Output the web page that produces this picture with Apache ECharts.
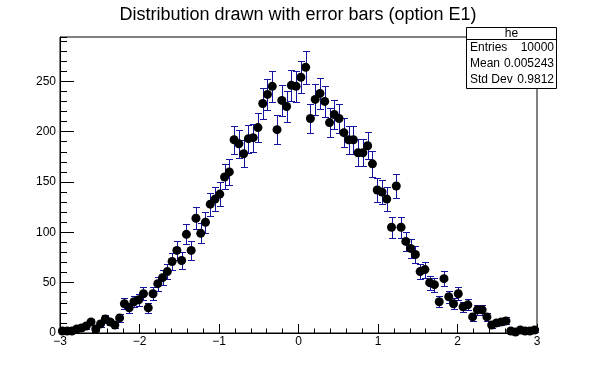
<!DOCTYPE html>
<html><head><meta charset="utf-8">
<script src="https://cdn.jsdelivr.net/npm/echarts@6/dist/echarts.min.js"></script>
<style>html,body{margin:0;padding:0;background:#fff}#c{width:596px;height:372px}</style>
</head><body><div id="c"></div>
<script>
// ---- data ----
const titleText = 'Distribution drawn with error bars (option E1)';
const histName = 'he';
const xMin = -3, xMax = 3;
const counts = [
  2, 2, 2, 4, 5, 7, 11, 4, 9, 14,
  11, 8, 15, 29, 25, 31, 33, 39, 25, 39,
  49, 55, 61, 71, 82, 72, 98, 82, 114, 99,
  110, 128, 133, 138, 155, 160, 192, 188, 178, 193,
  194, 204, 228, 237, 245, 202, 231, 225, 246, 245,
  254, 264, 213, 232, 238, 230, 209, 217, 213, 199,
  192, 192, 179, 179, 186, 168, 142, 140, 133, 105,
  146, 105, 91, 84, 78, 61, 63, 50, 48, 31,
  54, 36, 29, 39, 26, 28, 16, 23, 23, 16,
  8, 10, 11, 12, 2, 1, 3, 2, 2, 3
];
const statsLabels = ['Entries', 'Mean', 'Std Dev'];
const statsValues = ['10000', '0.005243', '0.9812'];
const yMax = 294;

// ---- derived (bin geometry + Poisson errors) ----
const nBins = counts.length;
const binW = (xMax - xMin) / nBins;
const points = counts.map((n, i) => [xMin + (i + 0.5) * binW, n, Math.sqrt(n), binW / 2]);

const FONT = '"Liberation Sans", Arial, Helvetica, sans-serif';
const ERR = '#1414a0';
const fmt = v => v < 0 ? '\u2212' + (-v) : String(v);

const chart = echarts.init(document.getElementById('c'), null, {renderer: 'canvas'});

const statsGraphic = [
  {type: 'rect', z: 100, shape: {x: 466.5, y: 27.5, width: 90, height: 61},
   style: {fill: '#fff', stroke: '#000', lineWidth: 1}},
  {type: 'line', z: 101, shape: {x1: 466.5, y1: 39.5, x2: 556.5, y2: 39.5},
   style: {stroke: '#000', lineWidth: 1}},
  {type: 'text', z: 101, x: 511.5, y: 33.5,
   style: {text: histName, textAlign: 'center', textVerticalAlign: 'middle', font: '12px ' + FONT, fill: '#000'}}
];
statsLabels.forEach((lab, i) => {
  const yy = 47.5 + i * 16;
  statsGraphic.push({type: 'text', z: 101, x: 470, y: yy,
    style: {text: lab, textAlign: 'left', textVerticalAlign: 'middle', font: '12px ' + FONT, fill: '#000'}});
  statsGraphic.push({type: 'text', z: 101, x: 554, y: yy,
    style: {text: statsValues[i], textAlign: 'right', textVerticalAlign: 'middle', font: '12px ' + FONT, fill: '#000'}});
});

chart.setOption({
  animation: false,
  backgroundColor: '#fff',
  title: {
    text: titleText, left: 'center', top: 1,
    textStyle: {fontFamily: FONT, fontSize: 18, fontWeight: 'normal', color: '#000'}
  },
  grid: {left: 60, right: 59, top: 37, bottom: 39, show: true, borderColor: '#000', borderWidth: 1, backgroundColor: 'transparent'},
  xAxis: {
    type: 'value', min: xMin, max: xMax, interval: 1,
    axisLine: {onZero: false, lineStyle: {color: '#000', width: 1}},
    axisTick: {inside: true, length: 9, lineStyle: {color: '#000'}},
    minorTick: {show: true, splitNumber: 5, length: 4.5, lineStyle: {color: '#000'}},
    splitLine: {show: false},
    axisLabel: {margin: 3, color: '#000', fontFamily: FONT, fontSize: 12, formatter: fmt}
  },
  yAxis: [
    {
      type: 'value', min: 0, max: yMax, interval: 50, position: 'left',
      axisLine: {show: true, onZero: false, lineStyle: {color: '#000', width: 1}},
      axisTick: {show: true, inside: true, length: 14, lineStyle: {color: '#000'}},
      splitLine: {show: false},
      axisLabel: {margin: 4, color: '#000', fontFamily: FONT, fontSize: 12, showMaxLabel: false,
        formatter: v => (v % 50 === 0 ? fmt(v) : '')}
    },
    {
      type: 'value', min: 0, max: yMax, interval: 10, position: 'left', offset: 0,
      axisLine: {show: false, onZero: false},
      axisTick: {show: true, inside: true, length: 7, lineStyle: {color: '#000'}},
      splitLine: {show: false},
      axisLabel: {show: false}
    }
  ],
  graphic: statsGraphic,
  series: [
    {
      type: 'custom', z: 2, data: points, xAxisIndex: 0, yAxisIndex: 0,
      renderItem: (params, api) => {
        const x = api.value(0), y = api.value(1), e = api.value(2), hw = api.value(3);
        const c = api.coord([x, y]);
        const lo = api.coord([x, y - e]);
        const hi = api.coord([x, y + e]);
        const l = api.coord([x - hw, y]);
        const r = api.coord([x + hw, y]);
        const px = Math.round(c[0]) + 0.5;
        const yl = Math.round(lo[1]) + 0.5, yh = Math.round(hi[1]) + 0.5, yc = Math.round(c[1]) + 0.5;
        const cap = 3.5;
        const st = {stroke: ERR, lineWidth: 1, fill: null};
        return {type: 'group', children: [
          {type: 'line', shape: {x1: px, y1: yl, x2: px, y2: yh}, style: st},
          {type: 'line', shape: {x1: px - cap, y1: yl, x2: px + cap, y2: yl}, style: st},
          {type: 'line', shape: {x1: px - cap, y1: yh, x2: px + cap, y2: yh}, style: st},
          {type: 'line', shape: {x1: l[0] - 1, y1: yc, x2: r[0] + 1, y2: yc}, style: st}
        ]};
      }
    },
    {
      type: 'scatter', z: 3, data: points.map(p => [p[0], p[1]]),
      symbol: 'circle', symbolSize: 9,
      itemStyle: {color: '#000', opacity: 1}
    }
  ]
});
</script></body></html>
